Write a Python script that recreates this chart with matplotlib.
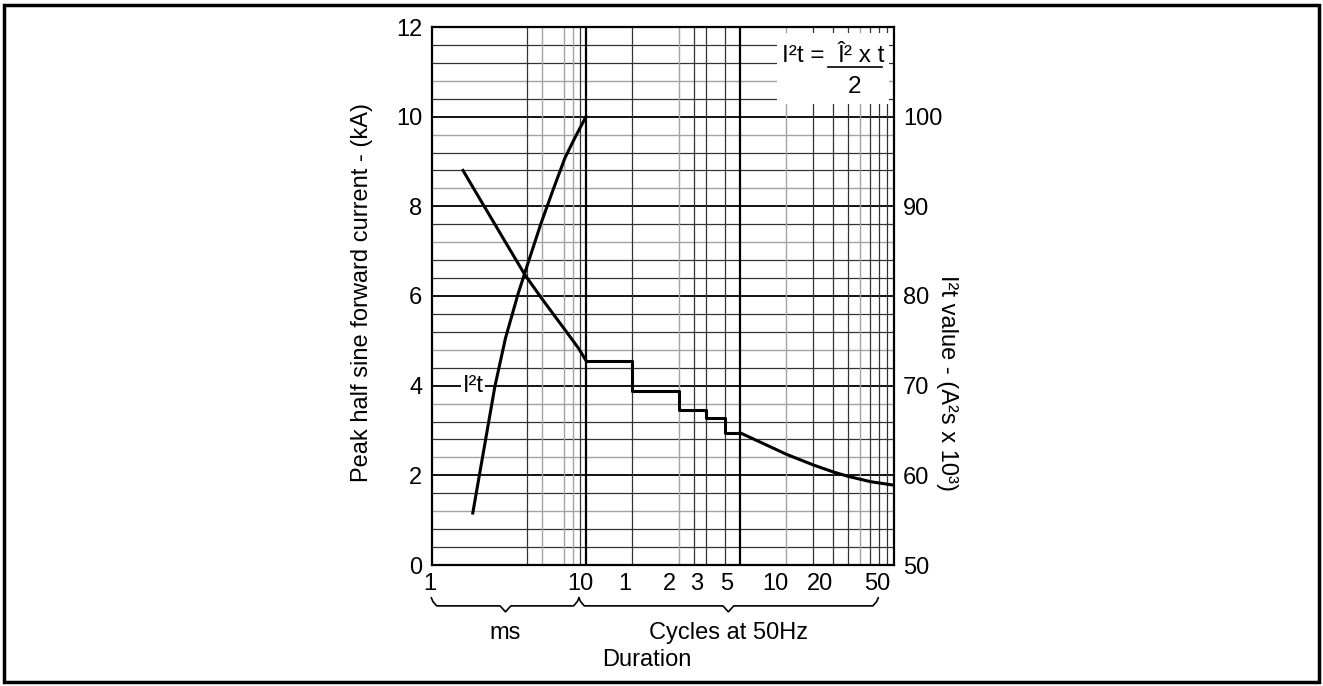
"""Surge current / I2t rating chart: peak half-sine forward current vs duration."""

import matplotlib
matplotlib.use("Agg")
import matplotlib.pyplot as plt
import matplotlib.transforms as mtransforms
from matplotlib.patches import Rectangle
import numpy as np

plt.rcParams["font.family"] = ["Liberation Sans", "DejaVu Sans"]

W, H = 1323, 686
INK = "#000000"
GRID_DARK = "#333333"
GRID_LIGHT = "#a3a3a3"

# surge current, ms -> kA (left axis)
surge_ms = [1.59, 2.0, 2.5, 3.0, 4.0, 5.0, 6.0, 7.0, 8.0, 9.0, 10.0]
surge_ka = [8.80, 8.22, 7.66, 7.20, 6.48, 6.01, 5.64, 5.33, 5.06, 4.82, 4.56]

# stepped part, whole cycles at 50 Hz (ms)
step_ms = [10, 20, 40, 60, 80, 100]
step_ka = [4.56, 3.89, 3.46, 3.27, 2.95, 2.95]

# tail beyond 5 cycles
tail_ms = [100, 150, 200, 300, 400, 500, 700, 1000]
tail_ka = [2.95, 2.67, 2.47, 2.23, 2.08, 1.98, 1.86, 1.78]

# I2t curve, ms -> A2s x 10^3 (right axis)
i2t_ms = [1.84, 2.03, 2.56, 3.0, 3.63, 4.3, 5.08, 6.1, 7.3, 8.5, 10.0]
i2t_val = [55.8, 60.0, 69.9, 75.3, 80.3, 84.2, 88.0, 91.8, 95.4, 97.7, 100.0]

x_tick_ms = [1, 10, 20, 40, 60, 100, 200, 400, 1000]
x_tick_labels = ["1", "10", "1", "2", "3", "5", "10", "20", "50"]
x_label_nudge = [-2, -6, -8, -9, -9, -13, -11, -13, -17]  # px, labels sit left of lines

vgrid_dark = [4.15, 9.1, 20, 50, 60, 80, 300, 400, 500, 700, 800, 900]
vgrid_light = [5.2, 7.2, 8.2, 40, 200, 600]
vgrid_major = [10, 100]

left_ticks = [0, 2, 4, 6, 8, 10, 12]
right_ticks = [50, 60, 70, 80, 90, 100]

fig = plt.figure(figsize=(W / 100, H / 100), dpi=100)
fig.patch.set_facecolor("white")

# plot box in pixels: x 432..894, y 27..565
ax = fig.add_axes([432 / W, 1 - 565 / H, 462 / W, 538 / H])
ax.set_xscale("log")
ax.set_xlim(1, 1000)
ax.set_ylim(0, 12)

# grid
for v in np.round(np.arange(0.4, 12, 0.4), 1):
    if v % 2 == 0:
        ax.axhline(v, color=INK, lw=1.3, zorder=1)
    elif abs(v / 1.2 - round(v / 1.2)) < 1e-6:
        ax.axhline(v, color=GRID_LIGHT, lw=1.0, zorder=1)
    else:
        ax.axhline(v, color=GRID_DARK, lw=0.9, zorder=1)
for v in vgrid_dark:
    ax.axvline(v, color=GRID_DARK, lw=0.9, zorder=1)
for v in vgrid_light:
    ax.axvline(v, color=GRID_LIGHT, lw=1.0, zorder=1)
for v in vgrid_major:
    ax.axvline(v, color=INK, lw=1.6, zorder=1)

# formula box blanks out the grid
ax.add_patch(Rectangle((0.747, 0.857), 0.242, 0.132, transform=ax.transAxes,
                       facecolor="white", edgecolor="none", zorder=2))
ax.text(0.757, 0.947, "I²t =", transform=ax.transAxes, fontsize=17.5,
        ha="left", va="center", zorder=3)
ax.text(0.928, 0.947, "Î² x t", transform=ax.transAxes, fontsize=17.5,
        ha="center", va="center", zorder=3)
ax.plot([0.858, 0.974], [0.926, 0.926], transform=ax.transAxes, color=INK,
        lw=1.2, zorder=3)
ax.text(0.915, 0.888, "2", transform=ax.transAxes, fontsize=17.5,
        ha="center", va="center", zorder=3)

# current curve
ax.plot(surge_ms, surge_ka, color=INK, lw=2.2, zorder=4, solid_joinstyle="round")
ax.plot(step_ms, step_ka, color=INK, lw=2.2, zorder=4, drawstyle="steps-post")
ax.plot(tail_ms, tail_ka, color=INK, lw=2.2, zorder=4, solid_joinstyle="round")

ax.text(1.85, 4.0, "I²t", fontsize=17, ha="center", va="center", zorder=5,
        bbox=dict(facecolor="white", edgecolor="none", pad=1.0))

for side in ("left", "right", "top", "bottom"):
    ax.spines[side].set_linewidth(1.6)
    ax.spines[side].set_zorder(6)

ax.set_yticks(left_ticks)
ax.set_yticklabels([str(t) for t in left_ticks])
ax.tick_params(axis="y", length=0, pad=7, labelsize=17)
ax.xaxis.set_minor_locator(matplotlib.ticker.NullLocator())
ax.set_xticks(x_tick_ms)
ax.set_xticklabels(x_tick_labels)
ax.tick_params(axis="x", length=0, pad=6, labelsize=17)
for lbl, dx in zip(ax.get_xticklabels(), x_label_nudge):
    lbl.set_transform(lbl.get_transform()
                      + mtransforms.ScaledTranslation(dx / 100, 0, fig.dpi_scale_trans))

# right axis for I2t
ax2 = ax.twinx()
ax2.set_ylim(50, 110)
ax2.plot(i2t_ms, i2t_val, color=INK, lw=2.2, zorder=4, solid_joinstyle="round")
ax2.set_yticks(right_ticks)
ax2.set_yticklabels([str(t) for t in right_ticks])
ax2.tick_params(axis="y", length=0, pad=6.5, labelsize=17)
for side in ("left", "right", "top", "bottom"):
    ax2.spines[side].set_visible(False)

# braces under the x axis
trans = mtransforms.blended_transform_factory(ax.transData, ax.transAxes)


def brace(x0, x1, xm, top=-0.061, mid=-0.076, tip=-0.087, d=0.035):
    l0, l1, lm = np.log10(x0), np.log10(x1), np.log10(xm)
    xs = [l0, l0 + d * 0.3, l0 + d, lm - d, lm, lm + d, l1 - d, l1 - d * 0.3, l1]
    ys = [top, mid + 0.008, mid, mid, tip, mid, mid, mid + 0.008, top]
    ax.plot(10 ** np.array(xs), ys, transform=trans, color=INK, lw=1.2,
            clip_on=False)


brace(0.99, 9.0, 3.0)
brace(9.0, 790, 84)

ax.text(3.0, -0.126, "ms", transform=trans, fontsize=17, ha="center", va="center")
ax.text(84, -0.126, "Cycles at 50Hz", transform=trans, fontsize=17,
        ha="center", va="center")
ax.text(25, -0.177, "Duration", transform=trans, fontsize=17,
        ha="center", va="center")

fig.text(362 / W, 1 - 293 / H, "Peak half sine forward current - (kA)",
         rotation=90, fontsize=17, ha="center", va="center")
fig.text(947 / W, 1 - 383 / H, "I²t value - (A²s x 10³)",
         rotation=270, fontsize=17, ha="center", va="center")

# outer frame
fig.add_artist(Rectangle((3.5 / W, 4.5 / H), 1315 / W, 677 / H,
                         transform=fig.transFigure, facecolor="none",
                         edgecolor=INK, lw=2.5))

fig.savefig("out.png", dpi=100, facecolor="white")
plt.close(fig)
